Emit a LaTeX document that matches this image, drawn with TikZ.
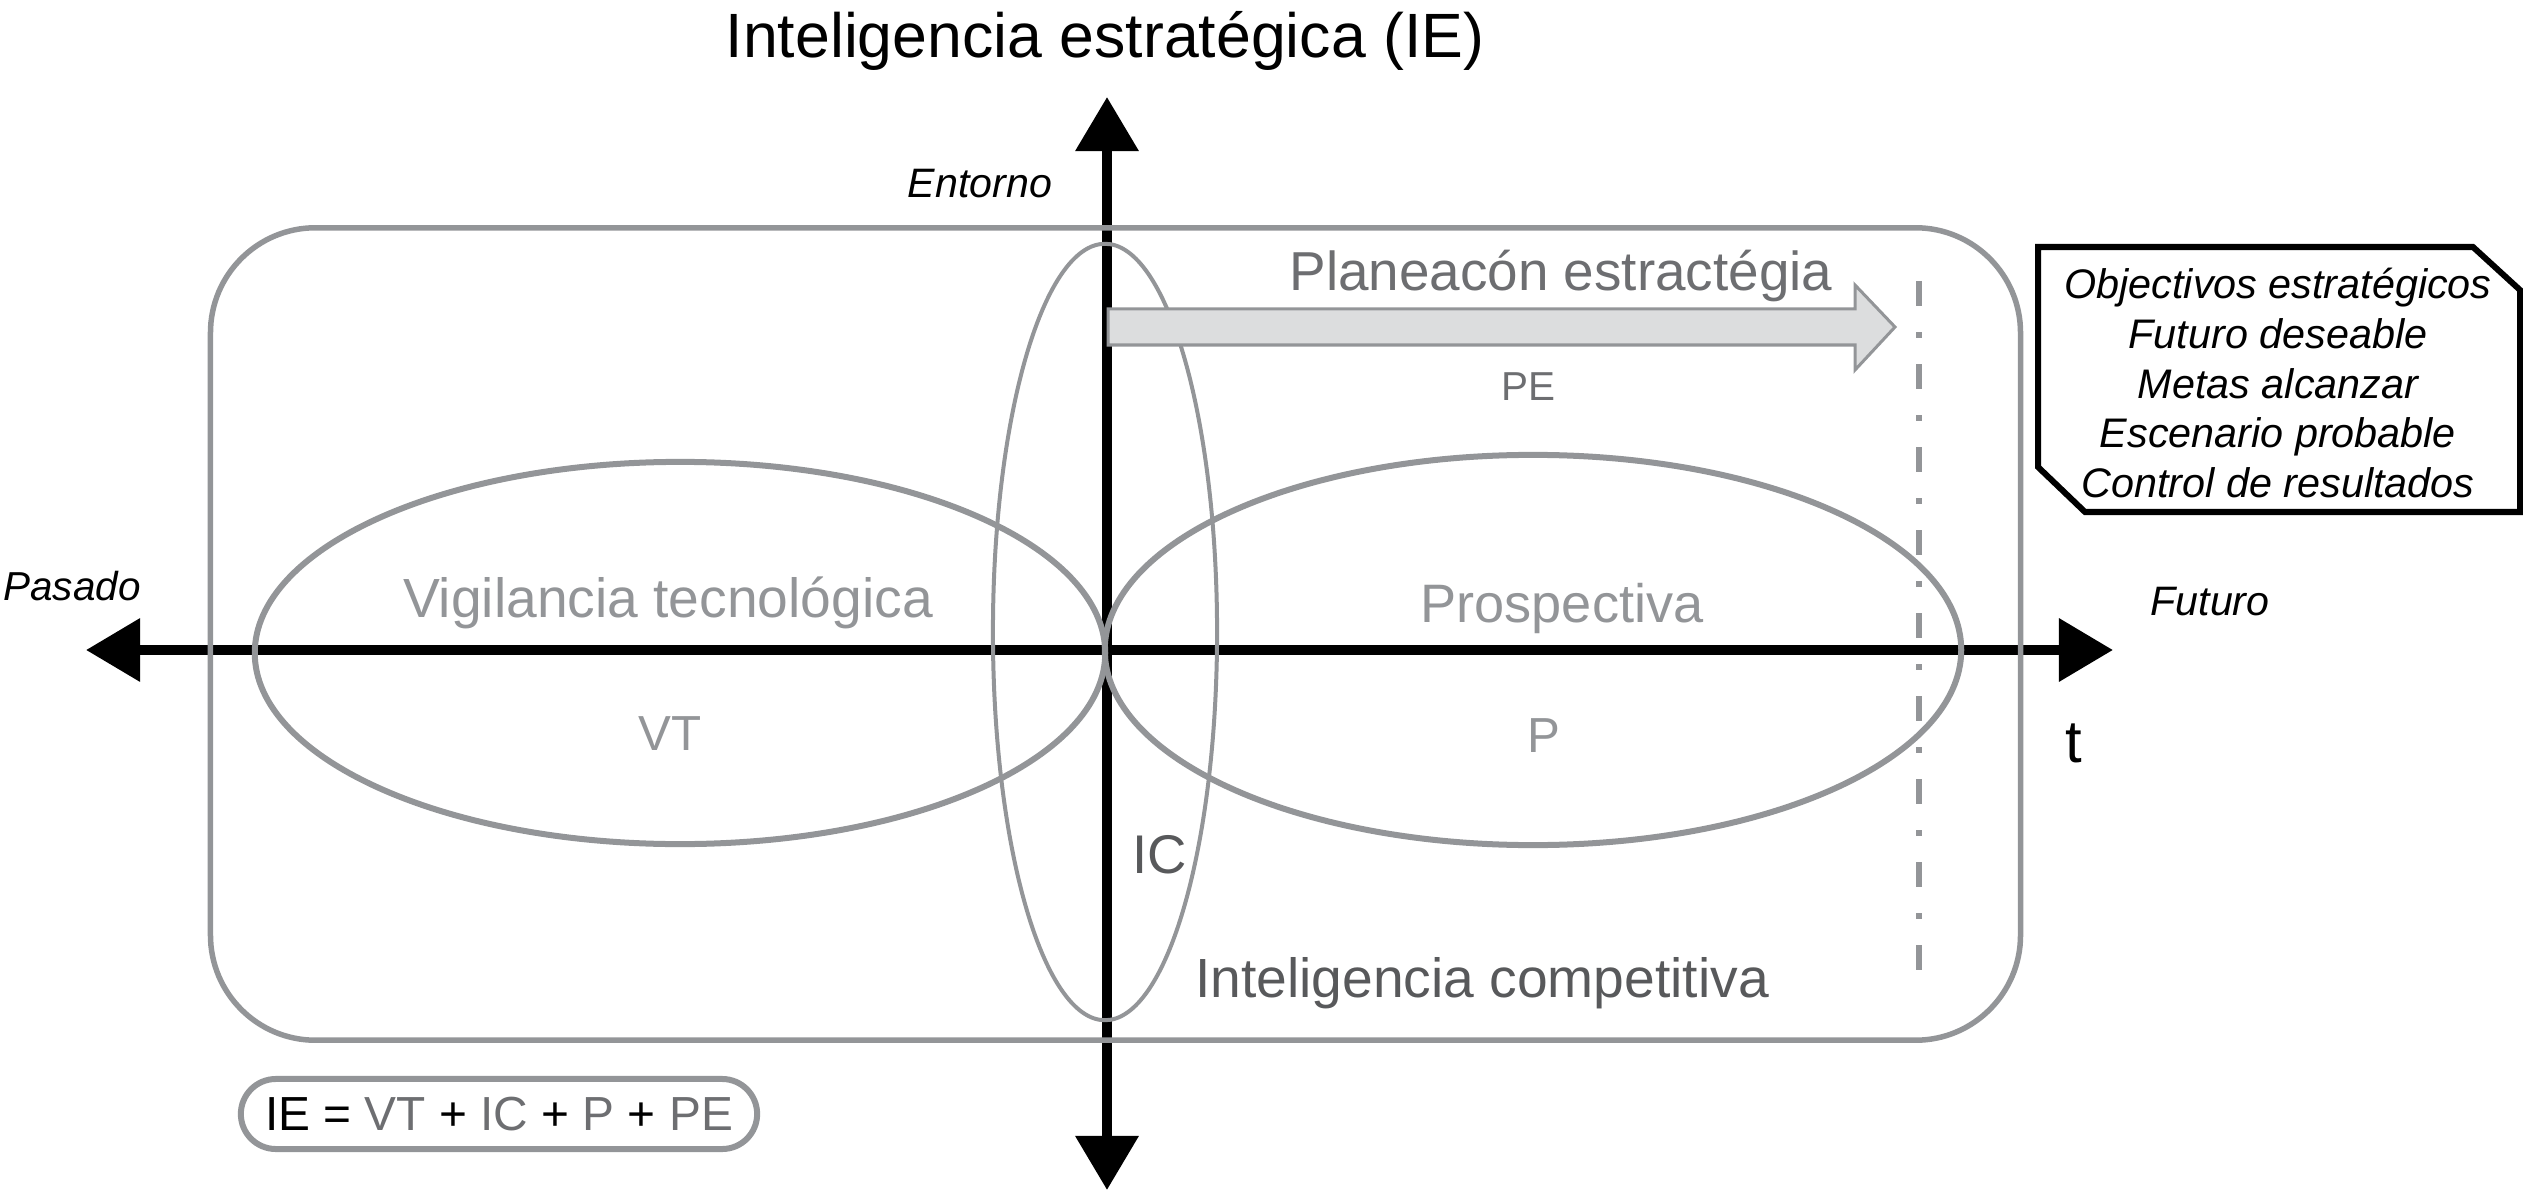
\documentclass[tikz,border=0pt]{standalone}
\usepackage{fontspec}
\setmainfont{Liberation Sans}
\usetikzlibrary{arrows.meta, shapes.geometric}

\definecolor{linegray}{HTML}{939598}
\definecolor{lightgray}{HTML}{939598}
\definecolor{petext}{HTML}{6D6E71}
\definecolor{ictext}{HTML}{58595B}
\definecolor{arrowfill}{HTML}{DCDDDE}

\newcommand{\fsz}[1]{\fontsize{#1}{#1}\selectfont}

\begin{document}
\begin{tikzpicture}[x=0.01cm, y=-0.01cm,
  taxis/.style={line width=1mm, {Triangle[length=5.4mm,width=6.1mm]}-{Triangle[length=5.4mm,width=6.1mm]}},
  zone/.style={ellipse, draw=linegray, line width=0.6mm, inner sep=0pt},
  txt/.style={inner sep=0pt, anchor=base}]
  \useasboundingbox (0,0) rectangle (2523,1191);

  % time and environment axes
  \coordinate (pastend) at (86,650);
  \coordinate (futureend) at (2113,650);
  \coordinate (envtop) at (1107,97);
  \coordinate (envbottom) at (1107,1190);
  \draw[taxis] (pastend) -- (futureend);
  \draw[taxis] (envbottom) -- (envtop);

  % frame and the three fields
  \node[draw=linegray, line width=0.55mm, rounded corners=1.05cm,
    minimum width=18.09cm, minimum height=8.12cm] (icframe) at (1115.5,634) {};
  \node[zone, minimum width=8.5cm, minimum height=3.82cm] (vt) at (680,653) {};
  \node[zone, minimum width=8.56cm, minimum height=3.9cm] (p) at (1533,650) {};
  \node[zone, line width=0.4mm, minimum width=2.24cm, minimum height=7.76cm] (ic) at (1105,632) {};

  % horizon
  \coordinate (limtop) at (1919,281);
  \coordinate (limbottom) at (1919,978);
  \draw[linegray, line width=0.6mm, dash pattern=on 2.5mm off 2.6mm on 0.6mm off 2.6mm] (limtop) -- (limbottom);

  % strategic planning arrow
  \draw[linegray, fill=arrowfill, line width=0.3mm] (1108,309) -- (1855,309) -- (1855,285) -- (1895,327)
    -- (1855,370) -- (1855,345) -- (1108,345) -- cycle;

  % labels
  \node[txt, font=\fsz{17.8}] (title) at (1105,58) {Inteligencia estratégica (IE)};
  \node[txt, font=\fsz{11.7}\itshape] (entorno) at (980,198) {Entorno};
  \node[txt, font=\fsz{11.5}\itshape] (pasado) at (72,600) {Pasado};
  \node[txt, font=\fsz{11.7}\itshape] (futuro) at (2210,615) {Futuro};
  \node[txt, font=\fsz{17}] (tlabel) at (2074,762) {t};
  \node[txt, font=\fsz{15.6}, text=petext] (pelabel) at (1561,291) {Planeacón estractégia};
  \node[txt, font=\fsz{11.5}, text=petext] (peshort) at (1528,400) {PE};
  \node[txt, font=\fsz{15.7}, text=lightgray] (vtlabel) at (668,617) {Vigilancia tecnológica};
  \node[txt, font=\fsz{14}, text=lightgray] (vtshort) at (670,750) {VT};
  \node[txt, font=\fsz{15.4}, text=lightgray] (plabel) at (1562,622) {Prospectiva};
  \node[txt, font=\fsz{14}, text=lightgray] (pshort) at (1544,752) {P};
  \node[txt, font=\fsz{15.5}, text=ictext] (icshort) at (1160,873) {IC};
  \node[txt, font=\fsz{15.7}, text=ictext] (iclabel) at (1482,997) {Inteligencia competitiva};

  % goals box
  \node[font=\fontsize{11.75}{14.2}\selectfont\itshape, align=center, inner sep=0pt] (goals) at (2278,383)
    {Objectivos estratégicos\\Futuro deseable\\Metas alcanzar\\Escenario probable\\Control de resultados};
  \draw[line width=0.6mm] (2038,247) -- (2473,247) -- (2520,290) -- (2520,512) -- (2085,512) -- (2038,467) -- cycle;

  % formula
  \node[draw=linegray, line width=0.6mm, rounded corners=0.35cm, minimum width=5.16cm, minimum height=0.7cm,
    inner sep=0pt, font=\fsz{13.6}] (formula) at (499,1114)
    {IE = \textcolor{petext}{VT} + \textcolor{petext}{IC} + \textcolor{petext}{P} + \textcolor{petext}{PE}};
\end{tikzpicture}
\end{document}
